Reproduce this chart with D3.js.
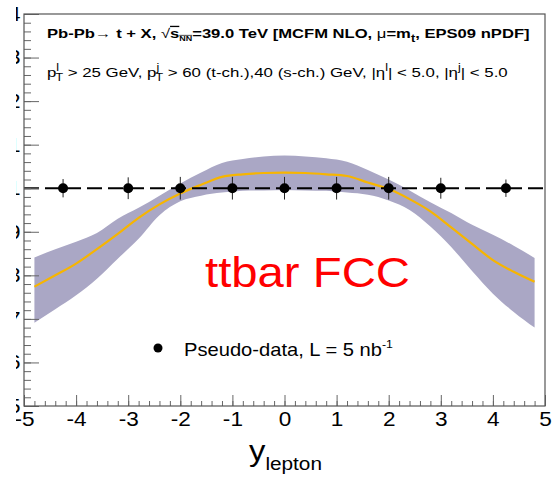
<!DOCTYPE html>
<html>
<head>
<meta charset="utf-8">
<script src="https://cdn.jsdelivr.net/npm/d3@7"></script>
<style>
  body { margin: 0; background: #fff; }
  svg { display: block; }
  text { font-family: "Liberation Sans", Arial, sans-serif; }
</style>
</head>
<body>
<div id="chart"></div>
<script>
// chart data

var xTicks = [-5, -4, -3, -2, -1, 0, 1, 2, 3, 4, 5];
var yTicks = [0.5, 0.6, 0.7, 0.8, 0.9, 1.0, 1.1, 1.2, 1.3, 1.4];

// theory curve (MCFM NLO + EPS09) and its uncertainty band, ratio to free PDF
var bandX = [-4.8, -4.4, -4.0, -3.6, -3.2, -2.8, -2.4, -2.0, -1.6, -1.2, -0.8, -0.4, 0,
             0.4, 0.8, 1.2, 1.6, 2.0, 2.4, 2.8, 3.2, 3.6, 4.0, 4.4, 4.8];
var central = [0.774, 0.800, 0.827, 0.860, 0.895, 0.932, 0.963, 0.988, 1.008, 1.026, 1.032, 1.035, 1.036,
               1.035, 1.032, 1.028, 1.013, 0.998, 0.975, 0.947, 0.910, 0.872, 0.835, 0.808, 0.785];
var bandHigh = [0.841, 0.860, 0.877, 0.897, 0.930, 0.955, 0.983, 1.011, 1.036, 1.058, 1.067, 1.073, 1.075,
                1.073, 1.069, 1.061, 1.042, 1.020, 0.995, 0.968, 0.943, 0.916, 0.893, 0.868, 0.840];
var bandLow = [0.691, 0.722, 0.754, 0.792, 0.838, 0.884, 0.938, 0.970, 0.983, 0.990, 0.994, 0.995, 0.996,
               0.995, 0.994, 0.990, 0.985, 0.972, 0.950, 0.912, 0.865, 0.810, 0.758, 0.716, 0.680];

// pseudo-data points
var dataX = [-4.25, -3, -2, -1, 0, 1, 2, 3, 4.25];
var dataY = [1, 1, 1, 1, 1, 1, 1, 1, 1];
var dataErr = [0.021, 0.025, 0.026, 0.026, 0.026, 0.026, 0.026, 0.024, 0.020];

var svgWidth = 558;
var svgHeight = 478;

var plot = { left: 24, right: 545, top: 14, bottom: 406 };
var stretch = 1.13;   // the picture is a bit wider than tall

var svg = d3.select("#chart")
    .append("svg")
    .attr("width", svgWidth)
    .attr("height", svgHeight);

// left edge of the picture is cut off
svg.append("clipPath")
    .attr("id", "cut")
    .append("rect")
    .attr("x", 16).attr("y", 0)
    .attr("width", svgWidth).attr("height", svgHeight);

var x = d3.scaleLinear().domain([-5, 5]).range([plot.left, plot.right]);
var y = d3.scaleLinear().domain([0.5, 1.4]).range([plot.bottom, plot.top]);

var axisColor = "#666";

// squeeze/stretch a text horizontally so it runs from x0 to x1
function fitText(sel, x0, x1) {
    var w = sel.node().getBBox().width;
    var s = (x1 - x0) / w;
    sel.attr("transform", `translate(${x0},0) scale(${s},1) translate(${-x0},0)`);
}

// band
var bandData = bandX.map(function (d, i) {
    return { x: d, lo: bandLow[i], hi: bandHigh[i], c: central[i] };
});

svg.append("path")
    .datum(bandData)
    .attr("fill", "#aaa7c5")
    .attr("d", d3.area()
        .x(d => x(d.x))
        .y0(d => y(d.lo))
        .y1(d => y(d.hi))
        .curve(d3.curveMonotoneX));

svg.append("path")
    .datum(bandData)
    .attr("fill", "none")
    .attr("stroke", "#f7b500")
    .attr("stroke-width", 2.2)
    .attr("d", d3.line()
        .x(d => x(d.x))
        .y(d => y(d.c))
        .curve(d3.curveMonotoneX));

// dashed line at 1
svg.append("line")
    .attr("x1", x(-5)).attr("x2", x(5))
    .attr("y1", y(1)).attr("y2", y(1))
    .attr("stroke", "#000")
    .attr("stroke-width", 2)
    .attr("stroke-dasharray", "15,6");

// pseudo-data
var pts = dataX.map(function (d, i) {
    return { x: d, y: dataY[i], e: dataErr[i] };
});

svg.selectAll(".err")
    .data(pts)
    .enter()
    .append("line")
    .attr("x1", d => x(d.x)).attr("x2", d => x(d.x))
    .attr("y1", d => y(d.y - d.e)).attr("y2", d => y(d.y + d.e))
    .attr("stroke", "#222")
    .attr("stroke-width", 1);

svg.selectAll(".pt")
    .data(pts)
    .enter()
    .append("circle")
    .attr("cx", d => x(d.x))
    .attr("cy", d => y(d.y))
    .attr("r", 5)
    .attr("fill", "#000");

// axes (ROOT style: ticks inside the frame)
var xMinor = d3.range(-50, 51, 2).map(d => d / 10);
var yMinor = d3.range(25, 71, 1).map(d => d / 50);

svg.append("g")
    .attr("transform", `translate(0, ${plot.bottom})`)
    .call(d3.axisBottom(x).tickValues(xMinor).tickSize(-5).tickFormat(""))
    .call(g => g.select(".domain").remove())
    .selectAll("line").attr("stroke", axisColor);

var xAxis = svg.append("g")
    .attr("clip-path", "url(#cut)")
    .append("g")
    .attr("transform", `translate(0, ${plot.bottom})`)
    .call(d3.axisBottom(x).tickValues(xTicks).tickSizeInner(-11).tickSizeOuter(0).tickPadding(6).tickFormat(d => String(d)));
xAxis.select(".domain").remove();
xAxis.selectAll("line").attr("stroke", axisColor);
xAxis.selectAll("text")
    .attr("fill", "#000")
    .attr("transform", `scale(${stretch},1)`)
    .style("font-size", "20px")
    .style("font-family", "Liberation Sans, Arial, sans-serif");

svg.append("g")
    .attr("transform", `translate(${plot.left}, 0)`)
    .call(d3.axisLeft(y).tickValues(yMinor).tickSize(-7).tickFormat(""))
    .call(g => g.select(".domain").remove())
    .selectAll("line").attr("stroke", axisColor);

var yAxis = svg.append("g")
    .attr("clip-path", "url(#cut)")
    .append("g")
    .attr("transform", `translate(${plot.left}, 0)`)
    .call(d3.axisLeft(y).tickValues(yTicks).tickSizeInner(-15).tickSizeOuter(0).tickPadding(3).tickFormat(d => String(+d.toFixed(1))));
yAxis.select(".domain").remove();
yAxis.selectAll("line").attr("stroke", axisColor);
yAxis.selectAll("text")
    .attr("fill", "#000")
    .attr("transform", `scale(${stretch},1)`)
    .style("font-size", "20px")
    .style("font-family", "Liberation Sans, Arial, sans-serif");

// frame
svg.append("rect")
    .attr("x", plot.left)
    .attr("y", plot.top)
    .attr("width", plot.right - plot.left)
    .attr("height", plot.bottom - plot.top)
    .attr("fill", "none")
    .attr("stroke", "#555")
    .attr("stroke-width", 1.2);

// axis title
var xTitle = svg.append("text")
    .attr("x", 249)
    .attr("y", 461)
    .attr("fill", "#000");
xTitle.append("tspan").style("font-size", "30px").text("y");
xTitle.append("tspan").style("font-size", "19px").attr("dy", 9).text("lepton");
fitText(xTitle, 249, 322);

// header lines
var line1 = svg.append("text")
    .attr("x", 47)
    .attr("y", 38)
    .style("font-size", "13px")
    .style("font-weight", "bold")
    .attr("fill", "#000");
line1.append("tspan").text("Pb-Pb");
line1.append("tspan").style("font-weight", "normal").text("\u2192");
line1.append("tspan").text(" t + X, ");
line1.append("tspan").style("font-weight", "normal").text("\u221A");
line1.append("tspan").style("text-decoration", "overline").text("s");
line1.append("tspan").style("font-size", "7px").style("text-decoration", "overline").attr("dy", 3).text("NN");
line1.append("tspan").attr("dy", -3).text("=39.0 TeV [MCFM NLO, ");
line1.append("tspan").style("font-weight", "normal").text("\u03BC");
line1.append("tspan").text("=m");
line1.append("tspan").style("font-size", "10px").attr("dy", 4).text("t");
line1.append("tspan").attr("dy", -4).text(", EPS09 nPDF]");
fitText(line1, 47, 530);

var line2 = svg.append("text")
    .attr("x", 47)
    .attr("y", 77)
    .style("font-size", "13.5px")
    .attr("fill", "#000");

function pSubSup(t, sup) {
    t.append("tspan").style("font-size", "10px").attr("dy", -6).text(sup);
    t.append("tspan").style("font-size", "10px").attr("dx", -3).attr("dy", 10).text("T");
    t.append("tspan").attr("dy", -4).text(" ");
}
line2.append("tspan").text("p");
pSubSup(line2, "l");
line2.append("tspan").text("> 25 GeV, p");
pSubSup(line2, "j");
line2.append("tspan").text("> 60 (t-ch.),40 (s-ch.) GeV, |\u03B7");
line2.append("tspan").style("font-size", "10px").attr("dy", -6).text("l");
line2.append("tspan").attr("dy", 6).text("| < 5.0, |\u03B7");
line2.append("tspan").style("font-size", "10px").attr("dy", -6).text("j");
line2.append("tspan").attr("dy", 6).text("| < 5.0");
fitText(line2, 47, 508);

// big label
var big = svg.append("text")
    .attr("x", 205)
    .attr("y", 287)
    .style("font-size", "42px")
    .attr("fill", "#ff0000")
    .text("ttbar FCC");
fitText(big, 205, 410);

// legend
svg.append("circle")
    .attr("cx", 158)
    .attr("cy", 348)
    .attr("r", 4.5)
    .attr("fill", "#000");

var leg = svg.append("text")
    .attr("x", 184)
    .attr("y", 356)
    .style("font-size", "18px")
    .attr("fill", "#000");
leg.append("tspan").text("Pseudo-data, L = 5 nb");
leg.append("tspan").style("font-size", "11px").attr("dy", -8).text("-1");
fitText(leg, 184, 393);
</script>
</body>
</html>
